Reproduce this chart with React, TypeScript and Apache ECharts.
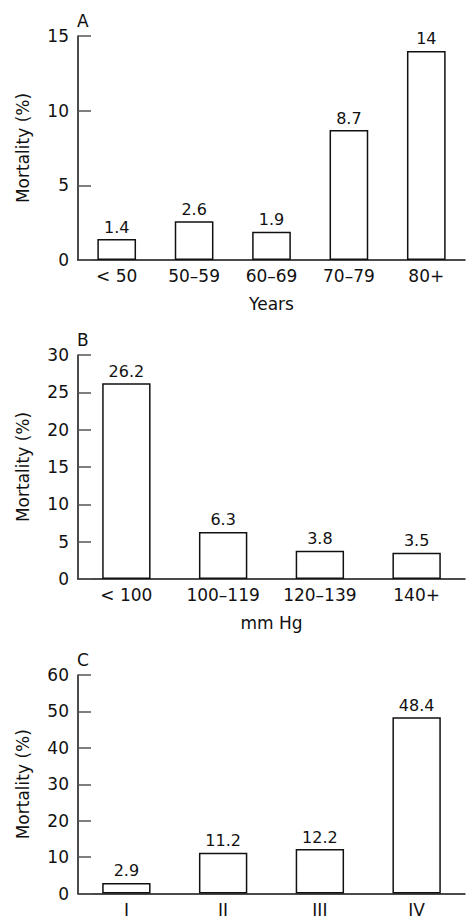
import React, { useEffect, useRef } from "react";
import * as echarts from "echarts";

const panelLetters = ["A", "B", "C"];
const ageCategories = ["< 50", "50–59", "60–69", "70–79", "80+"];
const ageMortality = [1.4, 2.6, 1.9, 8.7, 14];
const bpCategories = ["< 100", "100–119", "120–139", "140+"];
const bpMortality = [26.2, 6.3, 3.8, 3.5];
const killipCategories = ["I", "II", "III", "IV"];
const killipMortality = [2.9, 11.2, 12.2, 48.4];
const yMaxes = [15, 30, 60];
const yIntervals = [5, 5, 10];
const xNames = ["Years", "mm Hg", ""];
const yName = "Mortality (%)";

const FONT = "DejaVu Sans";

export default function App() {
  const ref = useRef<HTMLDivElement>(null);
  useEffect(() => {
    if (!ref.current) return;
    const chart = echarts.init(ref.current, undefined, { renderer: "svg" });
    const tops = [36, 355, 675];
    const cats = [ageCategories, bpCategories, killipCategories];
    const vals = [ageMortality, bpMortality, killipMortality];
    const grids = tops.map((t) => ({ left: 78, top: t, width: 387, height: 224 }));
    const xAxes = cats.map((c, i) => ({
      type: "category",
      gridIndex: i,
      data: c,
      boundaryGap: true,
      axisLine: { lineStyle: { color: "#111", width: 1.5 } },
      axisTick: { inside: true, length: 14, lineStyle: { color: "#555", width: 1.5 } },
      axisLabel: {
        color: "#111",
        fontSize: 17,
        fontFamily: FONT,
        margin: 8,
        lineHeight: 16,
      },
      name: xNames[i],
      nameLocation: "middle",
      nameGap: 35,
      nameTextStyle: { color: "#111", fontSize: 17, fontFamily: FONT },
    }));
    const yAxes = yMaxes.map((m, i) => ({
      type: "value",
      gridIndex: i,
      min: 0,
      max: m,
      interval: yIntervals[i],
      splitLine: { show: false },
      axisLine: { show: true, lineStyle: { color: "#111", width: 1.5 } },
      axisTick: { show: true, inside: true, length: 13, lineStyle: { color: "#555", width: 1.5 } },
      axisLabel: { color: "#111", fontSize: 17, fontFamily: FONT, margin: 9 },
      name: yName,
      nameLocation: "middle",
      nameRotate: 90,
      nameGap: 47,
      nameTextStyle: { color: "#111", fontSize: 17, fontFamily: FONT },
    }));
    const series = vals.map((v, i) => ({
      type: "bar",
      xAxisIndex: i,
      yAxisIndex: i,
      data: v,
      barWidth: "50%",
      itemStyle: { color: "#fff", borderColor: "#111", borderWidth: 1.5 },
      label: {
        show: true,
        position: "top",
        distance: 4,
        color: "#111",
        fontSize: 16,
        fontFamily: FONT,
      },
    }));
    const titles = panelLetters.map((l, i) => ({
      text: l,
      left: 77,
      top: tops[i] - 24,
      textStyle: { color: "#111", fontSize: 17, fontWeight: "normal", fontFamily: FONT },
      padding: 0,
    }));
    chart.setOption({
      animation: false,
      backgroundColor: "#fff",
      title: titles,
      grid: grids,
      xAxis: xAxes,
      yAxis: yAxes,
      series,
    });
    return () => chart.dispose();
  }, []);
  return (
    <div
      ref={ref}
      style={{ position: "fixed", left: 0, top: 0, width: 466, height: 918 }}
    />
  );
}
